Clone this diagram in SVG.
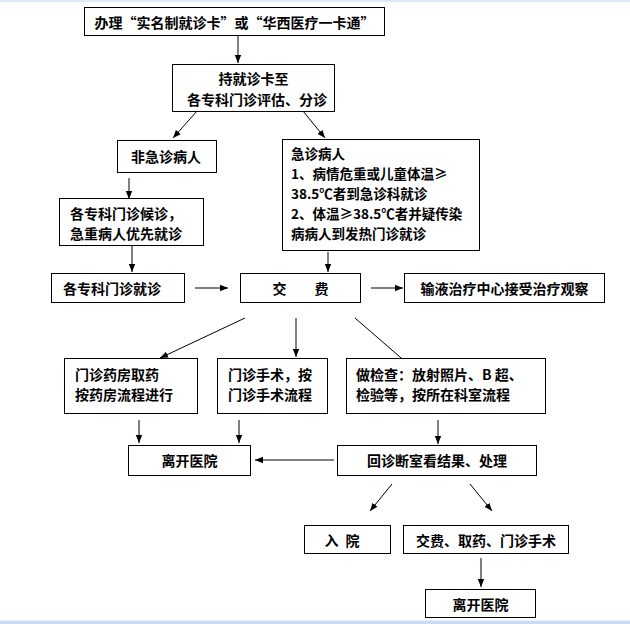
<svg xmlns="http://www.w3.org/2000/svg" width="630" height="624" viewBox="0 0 630 624">
<defs>
<style>
.b{fill:#fff;stroke:#000;stroke-width:1}
.t{font-family:"Noto Sans CJK SC","Liberation Serif",serif;font-size:14px;font-weight:bold;fill:#000;dominant-baseline:central}
.s{font-size:13.5px}
.m{text-anchor:middle}
.c{stroke:#000;stroke-width:1;fill:none;marker-end:url(#ah)}
</style>
<marker id="ah" markerUnits="userSpaceOnUse" markerWidth="8" markerHeight="8" viewBox="0 0 8 8" refX="8" refY="4" orient="auto">
<path d="M0,0.8 L8,4 L0,7.2 Z" fill="#000"/>
</marker>
</defs>
<rect x="0" y="0" width="630" height="624" fill="#fff"/>
<rect x="0" y="0" width="630" height="2" fill="#dfe9f8"/>
<rect x="0" y="620" width="630" height="4" fill="#c9daf5"/>
<rect x="0" y="620" width="630" height="1" fill="#e8eff9"/>

<g id="connectors">
<line class="c" x1="238" y1="35" x2="238" y2="63"/>
<line class="c" x1="197" y1="111" x2="173" y2="138"/>
<line class="c" x1="303" y1="111" x2="325" y2="138"/>
<line class="c" x1="129" y1="178" x2="129" y2="199"/>
<line class="c" x1="132" y1="245" x2="132" y2="272"/>
<line class="c" x1="328" y1="252" x2="328" y2="272"/>
<line class="c" x1="195" y1="288" x2="228" y2="288"/>
<line class="c" x1="371" y1="288" x2="403" y2="288"/>
<line class="c" x1="245" y1="318" x2="160" y2="358"/>
<line class="c" x1="296" y1="318" x2="296" y2="357"/>
<line class="c" x1="355" y1="318" x2="415" y2="370"/>
<line class="c" x1="139" y1="420" x2="139" y2="443"/>
<line class="c" x1="239" y1="420" x2="239" y2="443"/>
<line class="c" x1="438" y1="420" x2="438" y2="444"/>
<line class="c" x1="334" y1="460" x2="255" y2="460"/>
<line class="c" x1="392" y1="484" x2="370" y2="511"/>
<line class="c" x1="470" y1="484" x2="492" y2="511"/>
<line class="c" x1="481" y1="558" x2="481" y2="587"/>
</g>

<g id="n1"><rect class="b" x="84.5" y="7.5" width="300" height="28"/><text class="t m" x="234.5" y="22">办理“实名制就诊卡”或“华西医疗一卡通”</text></g>
<g id="n2"><rect class="b" x="172.5" y="64.5" width="162" height="47"/><text class="t m" x="253.5" y="78">持就诊卡至</text><text class="t m" x="257" y="99">各专科门诊评估、分诊</text></g>
<g id="n3"><rect class="b" x="117.5" y="140.5" width="99" height="32"/><text class="t m" x="166" y="156">非急诊病人</text></g>
<g id="n4"><rect class="b" x="282.5" y="139.5" width="197" height="111"/>
<text class="t s" x="291" y="153">急诊病人</text>
<text class="t s" x="291" y="173">1、病情危重或儿童体温≥</text>
<text class="t s" x="291" y="193">38.5℃者到急诊科就诊</text>
<text class="t s" x="291" y="213">2、体温≥38.5℃者并疑传染</text>
<text class="t s" x="291" y="233">病病人到发热门诊就诊</text></g>
<g id="n5"><rect class="b" x="59.5" y="198.5" width="144" height="47"/><text class="t" x="70" y="213">各专科门诊候诊，</text><text class="t" x="70" y="233">急重病人优先就诊</text></g>
<g id="n6"><rect class="b" x="51.5" y="273.5" width="133" height="29"/><text class="t" x="63" y="288">各专科门诊就诊</text></g>
<g id="n7"><rect class="b" x="240.5" y="273.5" width="120" height="29"/><text class="t m" x="300.5" y="288">交　　费</text></g>
<g id="n8"><rect class="b" x="404.5" y="273.5" width="200" height="29"/><text class="t m" x="504.5" y="288">输液治疗中心接受治疗观察</text></g>
<g id="n9"><rect class="b" x="64.5" y="358.5" width="133" height="55"/><text class="t" x="75" y="374">门诊药房取药</text><text class="t" x="75" y="394">按药房流程进行</text></g>
<g id="n10"><rect class="b" x="217.5" y="358.5" width="110" height="55"/><text class="t" x="228" y="374">门诊手术，按</text><text class="t" x="228" y="394">门诊手术流程</text></g>
<g id="n11"><rect class="b" x="346.5" y="358.5" width="199" height="55"/><text class="t" x="356" y="374">做检查：放射照片、B 超、</text><text class="t" x="356" y="394">检验等，按所在科室流程</text></g>
<g id="n12"><rect class="b" x="128.5" y="445.5" width="122" height="30"/><text class="t m" x="189.5" y="460">离开医院</text></g>
<g id="n13"><rect class="b" x="337.5" y="445.5" width="199" height="30"/><text class="t m" x="437" y="460">回诊断室看结果、处理</text></g>
<g id="n14"><rect class="b" x="304.5" y="525.5" width="86" height="28"/><text class="t m" x="343" y="540" letter-spacing="2">入 院</text></g>
<g id="n15"><rect class="b" x="403.5" y="525.5" width="165" height="28"/><text class="t m" x="486" y="540">交费、取药、门诊手术</text></g>
<g id="n16"><rect class="b" x="425.5" y="589.5" width="110" height="28"/><text class="t m" x="480.5" y="604">离开医院</text></g>
</svg>
